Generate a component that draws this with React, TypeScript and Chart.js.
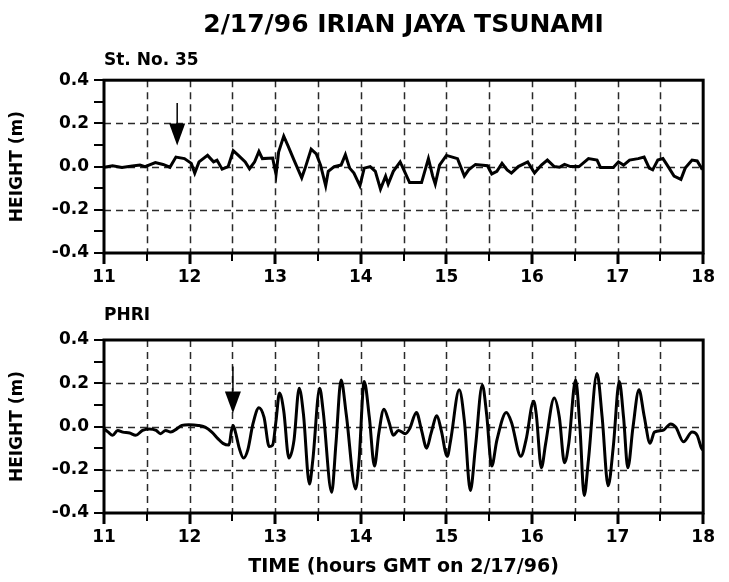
import React, { useEffect, useRef } from 'react';
import { Chart, registerables } from 'chart.js';

Chart.register(...registerables);

// ---- Text ----
const TITLE = '2/17/96 IRIAN JAYA TSUNAMI';
const TOP_LABEL = 'St. No. 35';
const BOTTOM_LABEL = 'PHRI';
const Y_TITLE = 'HEIGHT (m)';
const X_TITLE = 'TIME (hours GMT on 2/17/96)';

// ---- Axis ranges ----
const X_MIN = 11;
const X_MAX = 18;
const X_STEP = 0.5;
const Y_MIN = -0.4;
const Y_MAX = 0.4;
const Y_STEP = 0.1;
const Y_GRID_STEP = 0.2;

// ---- Station No. 35 (hours GMT, metres) ----
const TOP_HOURS = [
  11.0, 11.1, 11.21, 11.33, 11.42, 11.48, 11.6, 11.69, 11.77, 11.84, 11.94, 12.02, 12.06, 12.11,
  12.21, 12.28, 12.32, 12.38, 12.45, 12.51, 12.57, 12.65, 12.7, 12.76, 12.81, 12.85, 12.97, 13.01,
  13.04, 13.1, 13.15, 13.22, 13.31, 13.35, 13.42, 13.48, 13.53, 13.59, 13.62, 13.69, 13.77, 13.82,
  13.87, 13.92, 13.99, 14.04, 14.11, 14.17, 14.23, 14.29, 14.32, 14.38, 14.46, 14.52, 14.57, 14.71,
  14.79, 14.84, 14.87, 14.92, 15.0, 15.07, 15.13, 15.21, 15.26, 15.34, 15.48, 15.53, 15.59, 15.65,
  15.71, 15.76, 15.84, 15.95, 16.03, 16.11, 16.18, 16.26, 16.32, 16.38, 16.45, 16.55, 16.66, 16.76,
  16.8, 16.95, 17.01, 17.07, 17.14, 17.24, 17.31, 17.37, 17.41, 17.47, 17.53, 17.58, 17.66, 17.74,
  17.79, 17.87, 17.93, 17.98, 18.0,
];
const TOP_HEIGHTS = [
  -0.003, 0.004, -0.004, 0.003, 0.007, 0.0, 0.019, 0.01, -0.003, 0.044, 0.037, 0.015, -0.03, 0.022,
  0.052, 0.022, 0.03, -0.012, 0.0, 0.074, 0.052, 0.022, -0.01, 0.022, 0.07, 0.037, 0.04, -0.037,
  0.067, 0.141, 0.096, 0.03, -0.052, -0.007, 0.081, 0.059, 0.007, -0.089, -0.022, 0.0, 0.007, 0.055,
  -0.007, -0.03, -0.089, -0.007, 0.0, -0.022, -0.104, -0.044, -0.081, -0.022, 0.022, -0.03, -0.074, -0.074,
  0.037, -0.044, -0.081, 0.007, 0.052, 0.044, 0.037, -0.044, -0.015, 0.01, 0.004, -0.034, -0.022, 0.015,
  -0.015, -0.03, 0.0, 0.022, -0.03, 0.007, 0.03, 0.0, -0.003, 0.01, 0.0, 0.0, 0.037, 0.03,
  -0.004, -0.004, 0.022, 0.007, 0.03, 0.037, 0.044, -0.007, -0.015, 0.03, 0.037, 0.007, -0.044, -0.059,
  -0.007, 0.03, 0.026, -0.007, 0.0,
];

// ---- PHRI (hours GMT, metres) ----
const BOT_HOURS = [
  11.0, 11.05, 11.1, 11.16, 11.22, 11.3, 11.37, 11.45, 11.53, 11.61, 11.66, 11.72, 11.78, 11.85,
  11.91, 11.99, 12.1, 12.18, 12.26, 12.33, 12.39, 12.46, 12.49, 12.51, 12.54, 12.58, 12.63, 12.68,
  12.74, 12.81, 12.87, 12.93, 12.97, 13.01, 13.05, 13.1, 13.16, 13.22, 13.28, 13.33, 13.4, 13.44,
  13.52, 13.56, 13.66, 13.71, 13.77, 13.83, 13.94, 13.98, 14.04, 14.1, 14.16, 14.21, 14.27, 14.33,
  14.38, 14.44, 14.52, 14.57, 14.65, 14.71, 14.77, 14.82, 14.89, 14.94, 15.01, 15.05, 15.15, 15.21,
  15.28, 15.34, 15.42, 15.47, 15.53, 15.59, 15.7, 15.76, 15.87, 15.93, 16.02, 16.05, 16.11, 16.16,
  16.26, 16.32, 16.38, 16.43, 16.51, 16.56, 16.61, 16.66, 16.76, 16.82, 16.89, 16.95, 17.02, 17.07,
  17.12, 17.18, 17.25, 17.31, 17.38, 17.43, 17.53, 17.62, 17.68, 17.77, 17.87, 17.93, 17.98, 18.0,
];
const BOT_HEIGHTS = [
  -0.011, -0.026, -0.041, -0.018, -0.026, -0.03, -0.041, -0.018, -0.011, -0.018, -0.033, -0.018, -0.026, -0.011,
  0.005, 0.008, 0.005, -0.003, -0.026, -0.056, -0.078, -0.086, -0.018, 0.005, -0.033, -0.1, -0.146, -0.108,
  0.012, 0.087, 0.042, -0.093, -0.086, 0.027, 0.155, 0.072, -0.146, -0.063, 0.177, 0.057, -0.266, -0.153,
  0.177, 0.072, -0.304, -0.078, 0.215, 0.057, -0.289, -0.153, 0.208, 0.042, -0.183, -0.033, 0.08, 0.02,
  -0.041, -0.018, -0.033, -0.011, 0.065, -0.018, -0.1, -0.033, 0.05, -0.018, -0.138, -0.063, 0.17, 0.027,
  -0.296, -0.093, 0.192, 0.057, -0.183, -0.063, 0.065, 0.02, -0.138, -0.063, 0.117, 0.057, -0.191, -0.078,
  0.132, 0.042, -0.168, -0.078, 0.215, -0.003, -0.319, -0.153, 0.245, 0.042, -0.274, -0.093, 0.208, 0.042,
  -0.191, -0.003, 0.17, 0.05, -0.078, -0.026, -0.018, 0.012, -0.003, -0.071, -0.026, -0.041, -0.1, -0.11,
];

// ---- Arrival arrows: [hour, shaft top, head top, tip] ----
const TOP_ARROW = [11.855, 0.295, 0.2, 0.098];
const BOT_ARROW = [12.506, 0.277, 0.162, 0.061];

const FONT = "'DejaVu Sans', 'Liberation Sans', sans-serif";

const stepValues = (min: number, max: number, step: number) => {
  const out: number[] = [];
  const n = Math.round((max - min) / step);
  for (let i = 0; i <= n; i++) out.push(Math.round((min + i * step) * 1000) / 1000);
  return out;
};

const decorPlugin = {
  id: 'tsDecor',
  beforeDatasetsDraw(chart: any) {
    const { ctx, chartArea: a, scales } = chart;
    const x = scales.x;
    const y = scales.y;
    ctx.save();
    ctx.strokeStyle = '#2a2a2a';
    ctx.lineWidth = 1.5;
    ctx.setLineDash([7, 5]);
    for (const v of stepValues(X_MIN, X_MAX, X_STEP)) {
      if (v === X_MIN || v === X_MAX) continue;
      const px = Math.round(x.getPixelForValue(v)) + 0.5;
      ctx.beginPath();
      ctx.moveTo(px, a.top);
      ctx.lineTo(px, a.bottom);
      ctx.stroke();
    }
    for (const v of stepValues(Y_MIN, Y_MAX, Y_GRID_STEP)) {
      if (v === Y_MIN || v === Y_MAX) continue;
      const py = Math.round(y.getPixelForValue(v)) + 0.5;
      ctx.beginPath();
      ctx.moveTo(a.left, py);
      ctx.lineTo(a.right, py);
      ctx.stroke();
    }
    ctx.restore();
  },
  afterDatasetsDraw(chart: any, _args: any, opts: any) {
    const { ctx, chartArea: a, scales } = chart;
    const x = scales.x;
    const y = scales.y;
    ctx.save();
    ctx.setLineDash([]);
    ctx.strokeStyle = '#000';
    ctx.fillStyle = '#000';
    // ticks
    ctx.lineWidth = 2;
    for (const v of stepValues(Y_MIN, Y_MAX, Y_STEP)) {
      const py = Math.round(y.getPixelForValue(v));
      ctx.beginPath();
      ctx.moveTo(a.left - 10, py);
      ctx.lineTo(a.left, py);
      ctx.stroke();
    }
    for (const v of stepValues(X_MIN, X_MAX, X_STEP)) {
      const px = Math.round(x.getPixelForValue(v));
      const major = Math.abs(v - Math.round(v)) < 1e-6;
      ctx.lineWidth = major ? 3 : 2;
      ctx.beginPath();
      ctx.moveTo(px, a.bottom);
      ctx.lineTo(px, a.bottom + (major ? 11 : 8));
      ctx.stroke();
    }
    // frame
    ctx.lineWidth = 3;
    ctx.strokeRect(a.left, a.top, a.right - a.left, a.bottom - a.top);
    // arrow
    const arrow = opts && opts.arrow;
    if (arrow) {
      const ax = x.getPixelForValue(arrow[0]);
      const yShaft = y.getPixelForValue(arrow[1]);
      const yHead = y.getPixelForValue(arrow[2]);
      const yTip = y.getPixelForValue(arrow[3]);
      ctx.lineWidth = 1.5;
      ctx.beginPath();
      ctx.moveTo(ax, yShaft);
      ctx.lineTo(ax, yHead);
      ctx.stroke();
      ctx.beginPath();
      ctx.moveTo(ax - 8, yHead);
      ctx.lineTo(ax + 8, yHead);
      ctx.lineTo(ax, yTip);
      ctx.closePath();
      ctx.fill();
    }
    ctx.restore();
  },
};

function buildConfig(
  hours: number[],
  heights: number[],
  arrow: number[],
  panelLabel: string,
  withTitle: boolean,
  withXTitle: boolean,
  xAxisHeight: number,
  smooth: boolean,
): any {
  const bold = (size: number) => ({ family: FONT, size, weight: 'bold' as const });
  return {
    type: 'line',
    data: {
      datasets: [
        {
          data: hours.map((h, i) => ({ x: h, y: heights[i] })),
          borderColor: '#000',
          borderWidth: 3,
          pointRadius: 0,
          fill: false,
          tension: smooth ? 0.35 : 0,
          cubicInterpolationMode: smooth ? 'monotone' : 'default',
        },
      ],
    },
    options: {
      responsive: false,
      animation: false,
      devicePixelRatio: 1,
      layout: { padding: { left: 0, right: 16, top: 0, bottom: 0 } },
      plugins: {
        legend: { display: false },
        tooltip: { enabled: false },
        title: {
          display: withTitle,
          text: TITLE,
          color: '#000',
          font: bold(25),
          fullSize: false,
          padding: { top: 10, bottom: 3.6 },
        },
        subtitle: {
          display: true,
          text: panelLabel,
          color: '#000',
          align: 'start',
          fullSize: false,
          font: bold(17),
          padding: withTitle ? { top: 6.4, bottom: 9.8 } : { top: 15.8, bottom: 13.8 },
        },
        tsDecor: { arrow },
      },
      scales: {
        x: {
          type: 'linear',
          min: X_MIN,
          max: X_MAX,
          afterFit: (s: any) => {
            s.height = xAxisHeight;
          },
          grid: { display: false, drawTicks: false },
          border: { display: false },
          ticks: {
            stepSize: X_STEP,
            autoSkip: false,
            maxRotation: 0,
            padding: 14,
            color: '#000',
            font: bold(17),
            callback: (v: number) => (Math.abs(v - Math.round(v)) < 1e-6 ? String(Math.round(v)) : ''),
          },
          title: {
            display: withXTitle,
            text: X_TITLE,
            color: '#000',
            font: bold(19),
            padding: { top: 0, bottom: 3.6 },
          },
        },
        y: {
          type: 'linear',
          min: Y_MIN,
          max: Y_MAX,
          afterFit: (s: any) => {
            s.width = 104;
          },
          grid: { display: false, drawTicks: false },
          border: { display: false },
          ticks: {
            stepSize: Y_STEP,
            autoSkip: false,
            padding: 15,
            color: '#000',
            font: bold(17),
            callback: (v: number) => {
              const tenth = Math.round(v * 10);
              if (tenth % 2 !== 0) return '';
              return tenth === 0 ? '0.0' : (tenth / 10).toFixed(1);
            },
          },
          title: {
            display: true,
            text: Y_TITLE,
            color: '#000',
            font: bold(17),
            padding: { top: 7.8, bottom: 0 },
          },
        },
      },
    },
    plugins: [decorPlugin],
  };
}

export default function App() {
  const topRef = useRef<HTMLCanvasElement>(null);
  const botRef = useRef<HTMLCanvasElement>(null);

  useEffect(() => {
    const top = new Chart(
      topRef.current as HTMLCanvasElement,
      buildConfig(TOP_HOURS, TOP_HEIGHTS, TOP_ARROW, TOP_LABEL, true, false, 37, false),
    );
    const bot = new Chart(
      botRef.current as HTMLCanvasElement,
      buildConfig(BOT_HOURS, BOT_HEIGHTS, BOT_ARROW, BOTTOM_LABEL, false, true, 69, true),
    );
    return () => {
      top.destroy();
      bot.destroy();
    };
  }, []);

  return (
    <div style={{ position: 'absolute', left: 0, top: 0, width: 729, height: 582, background: '#fff' }}>
      <canvas ref={topRef} width={729} height={290} style={{ position: 'absolute', left: 0, top: 0 }} />
      <canvas ref={botRef} width={729} height={292} style={{ position: 'absolute', left: 0, top: 290 }} />
    </div>
  );
}
